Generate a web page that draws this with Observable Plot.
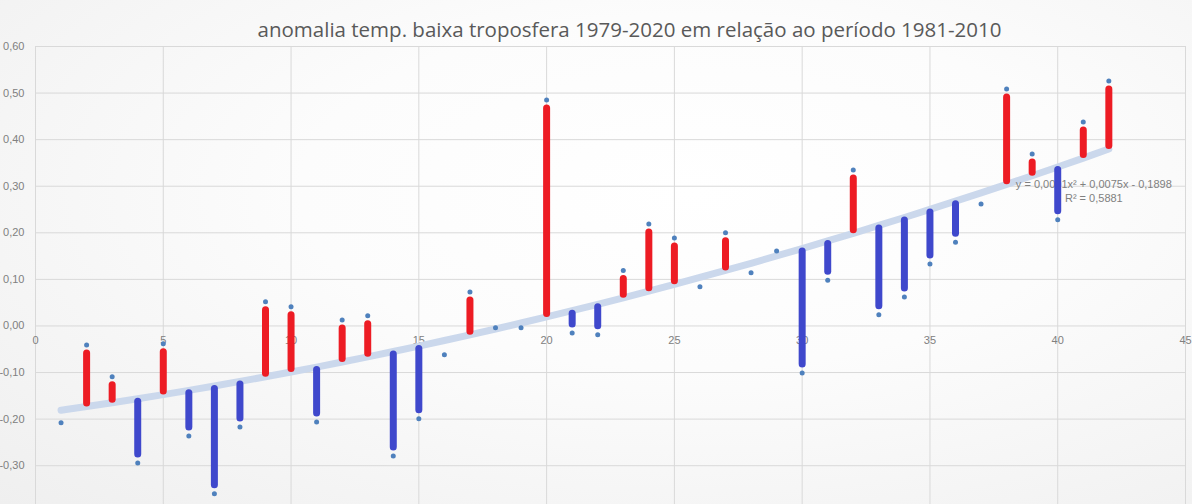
<!DOCTYPE html>
<html><head><meta charset="utf-8">
<script src="https://cdn.jsdelivr.net/npm/d3@7"></script>
<script src="https://cdn.jsdelivr.net/npm/@observablehq/plot@0.6"></script>
<style>
html,body{margin:0;padding:0;}
body{width:1192px;height:504px;overflow:hidden;background:radial-gradient(ellipse at 58% 38%, #ffffff 0%, #fcfcfc 40%, #efefef 100%);}
svg{display:block;}
</style></head><body><div id="chart"></div>
<script>
// year index (1 = 1979 ... 42 = 2020)
const anos = d3.range(1, 43);
const anomalia = [-0.208,-0.041,-0.109,-0.294,-0.038,-0.236,-0.360,-0.217,0.052,0.041,
  -0.206,0.013,0.022,-0.279,-0.199,-0.062,0.073,-0.004,-0.004,0.485,
  -0.015,-0.019,0.119,0.219,0.189,0.084,0.200,0.114,0.161,-0.101,
  0.098,0.335,0.024,0.062,0.133,0.180,0.262,0.509,0.369,0.228,
  0.438,0.526];
// "N" = red bar, "L" = blue bar, "" = no bar
const fase = ["","N","N","L","N","L","L","L","N","N",
  "L","N","N","L","L","","N","","","N",
  "L","L","N","N","N","","N","","","L",
  "L","N","L","L","L","L","","N","N","L",
  "N","N"];
const xTicks = [0,5,10,15,20,25,30,35,40,45];
const yTicks = [-0.3,-0.2,-0.1,0,0.1,0.2,0.3,0.4,0.5,0.6];
const titulo = "anomalia temp. baixa troposfera 1979-2020 em relação ao período 1981-2010";
const equacao = "y = 0,0001x² + 0,0075x - 0,1898";
const r2 = "R² = 0,5881";

// quadratic least squares fit of the data
function polyfit2(xs, ys) {
  let S = [0,0,0,0,0], T = [0,0,0];
  xs.forEach((x, i) => {
    for (let k = 0; k < 5; k++) S[k] += x ** k;
    for (let k = 0; k < 3; k++) T[k] += ys[i] * x ** k;
  });
  const A = [[S[0],S[1],S[2]],[S[1],S[2],S[3]],[S[2],S[3],S[4]]];
  const det = m => m[0][0]*(m[1][1]*m[2][2]-m[1][2]*m[2][1]) - m[0][1]*(m[1][0]*m[2][2]-m[1][2]*m[2][0]) + m[0][2]*(m[1][0]*m[2][1]-m[1][1]*m[2][0]);
  const D = det(A);
  const c = [0,1,2].map(j => det(A.map((row, r) => row.map((v, col) => col === j ? T[r] : v))) / D);
  return x => c[0] + c[1]*x + c[2]*x*x;
}
const trend = polyfit2(anos, anomalia);

const dados = anos.map((a, i) => ({ano: a, v: anomalia[i], t: trend(a), fase: fase[i]}));
const quentes = dados.filter(d => d.fase === "N");
const frios = dados.filter(d => d.fase === "L");
const fmt = d => d.toFixed(2).replace(".", ",");
const gray = "#808080";
const font = "'Liberation Sans', Arial, sans-serif";

const chart = Plot.plot({
  width: 1192, height: 504,
  marginLeft: 35, marginRight: 7, marginTop: 46, marginBottom: 0,
  style: {background: "transparent", fontFamily: font},
  x: {domain: [0, 45], axis: null},
  y: {domain: [-0.3833, 0.6], axis: null},
  marks: [
    Plot.ruleY(yTicks, {y: d => d, stroke: "#d9d9d9", strokeWidth: 1}),
    Plot.ruleX(xTicks, {x: d => d, stroke: "#d9d9d9", strokeWidth: 1}),
    Plot.text(yTicks, {y: d => d, text: fmt, frameAnchor: "left", dx: -11, textAnchor: "end", fill: gray, fontSize: 11}),
    Plot.text(xTicks, {x: d => d, y: d => 0, text: d => String(d), dy: 15, fill: gray, fontSize: 11}),
    Plot.text([titulo], {text: d => d, frameAnchor: "top", lineAnchor: "middle", dx: 19, dy: -16, fill: "#595959", fontSize: 20.5, fontFamily: "'Open Sans', sans-serif"}),
    Plot.line(dados, {x: "ano", y: "t", stroke: "#cbd8ec", strokeWidth: 7, strokeLinecap: "round", curve: "catmull-rom"}),
    Plot.text([dados[41]], {x: "ano", y: "t", text: () => equacao, dx: -15, dy: 35, fill: gray, fontSize: 11}),
    Plot.text([dados[41]], {x: "ano", y: "t", text: () => r2, dx: -15, dy: 49, fill: gray, fontSize: 11}),
    Plot.ruleX(quentes, {x: "ano", y1: "v", y2: "t", stroke: "#ed1c24", strokeWidth: 7, strokeLinecap: "round", insetTop: 8.5, insetBottom: 3}),
    Plot.ruleX(frios, {x: "ano", y1: "t", y2: "v", stroke: "#3f48cc", strokeWidth: 7, strokeLinecap: "round", insetTop: 3, insetBottom: 8.5}),
    Plot.dot(dados, {x: "ano", y: "v", r: 2.5, fill: "#4f81bd", stroke: "none"})
  ]
});
document.getElementById("chart").append(chart);
</script>
</body></html>
